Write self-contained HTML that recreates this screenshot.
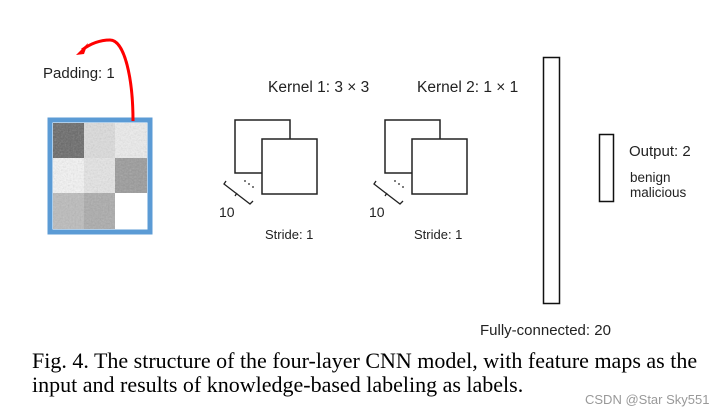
<!DOCTYPE html><html><head><style>
body{margin:0;width:727px;height:414px;background:#fff;position:relative;overflow:hidden;font-family:"Liberation Sans","Noto Sans CJK JP",sans-serif;}
.t{position:absolute;font-size:15px;color:#222;white-space:nowrap}
.cap{position:absolute;left:32px;font-family:"Liberation Serif",serif;font-size:22px;color:#000;white-space:nowrap}
</style></head><body>
<svg width="727" height="414" style="position:absolute;left:0;top:0">
<defs>
<filter id="n" x="0" y="0" width="1" height="1"><feTurbulence type="fractalNoise" baseFrequency="0.6" numOctaves="2" seed="3"/><feColorMatrix type="saturate" values="0"/></filter>
</defs>
<rect x="50" y="120" width="100" height="112" fill="#fff" stroke="#5b9bd5" stroke-width="5"/>
<g>
<rect x="53" y="123" width="31" height="35" fill="#666"/>
<rect x="84" y="123" width="31" height="35" fill="#ddd"/>
<rect x="115" y="123" width="32" height="35" fill="#eee"/>
<rect x="53" y="158" width="31" height="35" fill="#f6f6f6"/>
<rect x="84" y="158" width="31" height="35" fill="#e6e6e6"/>
<rect x="115" y="158" width="32" height="35" fill="#999"/>
<rect x="53" y="193" width="31" height="36" fill="#bbb"/>
<rect x="84" y="193" width="31" height="36" fill="#aaa"/>
<rect x="115" y="193" width="32" height="36" fill="#fff"/>
<rect x="53" y="123" width="94" height="70" filter="url(#n)" opacity="0.35"/>
<rect x="53" y="193" width="62" height="36" filter="url(#n)" opacity="0.35"/>
</g>
<path d="M133 121 C133 80 125 40 110 40 C100 40 90 44 82 50" fill="none" stroke="#f00" stroke-width="3"/>
<polygon points="76,55 88,43 84,54" fill="#f00"/>
<g fill="#fff" stroke="#222" stroke-width="1.5">
<rect x="235" y="120" width="55" height="53"/><rect x="262" y="139" width="55" height="55"/>
<rect x="385" y="120" width="55" height="53"/><rect x="412" y="139" width="55" height="55"/>
</g>
<g fill="none" stroke="#222" stroke-width="1.3">
<path d="M226 181 L224 184 L250 204 L253 201 M237 193 L235 196"/>
<path d="M376 181 L374 184 L400 204 L403 201 M387 193 L385 196"/>
</g>
<g fill="#222"><circle cx="245" cy="181" r="0.9"/><circle cx="249" cy="184" r="0.9"/><circle cx="253" cy="187" r="0.9"/>
<circle cx="395" cy="181" r="0.9"/><circle cx="399" cy="184" r="0.9"/><circle cx="403" cy="187" r="0.9"/></g>
<rect x="543.5" y="57.5" width="16" height="246" fill="#fff" stroke="#111" stroke-width="1.5"/>
<rect x="599.5" y="134.5" width="14" height="67" fill="#fff" stroke="#111" stroke-width="1.5"/>
</svg>
<div class="t" style="left:43px;top:65px">Padding: 1</div>
<div class="t" style="left:268px;top:79px;font-size:15.5px">Kernel 1: 3 × 3</div>
<div class="t" style="left:417px;top:79px;font-size:15.5px">Kernel 2: 1 × 1</div>
<div class="t" style="left:219px;top:204px;font-size:14px">10</div>
<div class="t" style="left:369px;top:204px;font-size:14px">10</div>
<div class="t" style="left:265px;top:227px;font-size:13px">Stride: 1</div>
<div class="t" style="left:414px;top:227px;font-size:13px">Stride: 1</div>
<div class="t" style="left:629px;top:143px">Output: 2</div>
<div class="t" style="left:630px;top:170px;font-size:13.5px">benign</div>
<div class="t" style="left:630px;top:185px;font-size:13.5px">malicious</div>
<div class="t" style="left:480px;top:322px">Fully-connected: 20</div>
<div class="cap" style="top:348px">Fig. 4. The structure of the four-layer CNN model, with feature maps as the</div>
<div class="cap" style="top:372px">input and results of knowledge-based labeling as labels.</div>
<div class="t" style="left:585px;top:392px;font-size:13px;color:#999">CSDN @Star Sky551</div>
</body></html>
